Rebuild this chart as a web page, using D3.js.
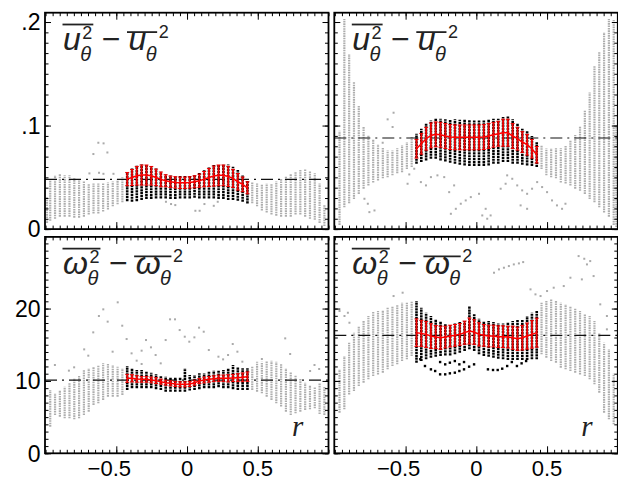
<!DOCTYPE html>
<html>
<head>
<meta charset="utf-8">
<script src="https://cdn.jsdelivr.net/npm/d3@7"></script>
<style>
body { margin: 0; background: #fff; }
text { font-family: "Liberation Sans", Arial, sans-serif; }
</style>
</head>
<body>
<svg id="chart" width="618" height="481"></svg>
<script>
// radial positions of the sample columns
const rGray = [-0.99, -0.967, -0.933, -0.899, -0.865, -0.831, -0.797, -0.763, -0.729, -0.695, -0.661, -0.627, -0.593, -0.559, -0.525, -0.491, -0.457,
  0.461, 0.495, 0.529, 0.563, 0.597, 0.631, 0.665, 0.699, 0.733, 0.767, 0.801, 0.835, 0.869, 0.903, 0.937, 0.971, 0.99];
const rBlack = [-0.423, -0.389, -0.355, -0.321, -0.287, -0.253, -0.219, -0.185, -0.151, -0.117, -0.083, -0.049, -0.015,
  0.019, 0.053, 0.087, 0.121, 0.155, 0.189, 0.223, 0.257, 0.291, 0.325, 0.359, 0.393, 0.427];

// top left
const grayHiTL = [0.031, 0.048, 0.052, 0.053, 0.052, 0.052, 0.049, 0.047, 0.046, 0.044, 0.044, 0.044, 0.044, 0.045, 0.046, 0.048, 0.050,
  0.046, 0.044, 0.043, 0.044, 0.044, 0.046, 0.049, 0.051, 0.053, 0.055, 0.057, 0.058, 0.056, 0.054, 0.044, 0.023, null];
const grayLoTL = [0.006, 0.008, 0.010, 0.012, 0.012, 0.012, 0.011, 0.011, 0.012, 0.014, 0.015, 0.015, 0.017, 0.019, 0.022, 0.024, 0.026,
  0.025, 0.022, 0.018, 0.016, 0.014, 0.013, 0.012, 0.012, 0.012, 0.014, 0.014, 0.012, 0.010, 0.009, 0.006, 0.003, null];
const blackHiTL = [0.0548, 0.0586, 0.0612, 0.0625, 0.0625, 0.0609, 0.0586, 0.0554, 0.0528, 0.0519, 0.0515, 0.0512, 0.0512,
  0.0519, 0.0528, 0.0544, 0.057, 0.0596, 0.0618, 0.0625, 0.0628, 0.0625, 0.0602, 0.057, 0.052, 0.047];
const blackLoTL = [0.027, 0.0264, 0.027, 0.028, 0.029, 0.029, 0.0296, 0.0296, 0.0296, 0.029, 0.029, 0.0296, 0.0296,
  0.0296, 0.0303, 0.0296, 0.0296, 0.0296, 0.0296, 0.029, 0.029, 0.028, 0.028, 0.0274, 0.0264, 0.0248];
const meanTL = [0.0483, 0.0499, 0.0515, 0.0522, 0.0522, 0.0515, 0.0499, 0.048, 0.0467, 0.0457, 0.0451, 0.0448, 0.0448,
  0.0451, 0.0457, 0.0467, 0.0483, 0.0499, 0.0512, 0.0519, 0.0519, 0.0509, 0.049, 0.0457, 0.0432, 0.0399];
const errTL = [0.0064, 0.0077, 0.009, 0.0097, 0.0097, 0.009, 0.008, 0.0071, 0.0058, 0.0055, 0.0055, 0.0055, 0.0055,
  0.0055, 0.0058, 0.0064, 0.0074, 0.0087, 0.0097, 0.01, 0.01, 0.0097, 0.0087, 0.008, 0.0071, 0.0058];
const outTL = [[-0.662, 0.0725], [-0.627, 0.0834], [-0.59, 0.0828], [-0.563, 0.074], [-0.69, 0.0538], [-0.622, 0.0544],
  [-0.591, 0.0534], [-0.52, 0.0534], [-0.149, 0.0264], [-0.113, 0.0242], [-0.083, 0.0232], [0.059, 0.0177],
  [0.089, 0.0177], [0.123, 0.0242], [0.189, 0.0225], [0.217, 0.0264]];

// top right
const grayHiTR = [null, 0.095, 0.203, 0.169, 0.142, 0.119, 0.099, 0.091, 0.087, 0.082, 0.079, 0.076, 0.076, 0.078, 0.081, 0.084, 0.089,
  0.081, 0.078, 0.078, 0.078, 0.078, 0.081, 0.086, 0.091, 0.099, 0.115, 0.132, 0.158, 0.171, 0.190, 0.203, 0.202, 0.100];
const grayLoTR = [null, 0.004, 0.021, 0.025, 0.029, 0.034, 0.039, 0.042, 0.045, 0.047, 0.049, 0.050, 0.052, 0.054, 0.055, 0.058, 0.060,
  0.058, 0.052, 0.050, 0.049, 0.045, 0.044, 0.042, 0.039, 0.037, 0.034, 0.029, 0.026, 0.021, 0.016, 0.012, 0.004, 0.002];
const blackHiTR = [0.0921, 0.0969, 0.1018, 0.105, 0.1066, 0.1066, 0.106, 0.106, 0.106, 0.1056, 0.1056, 0.1056, 0.105,
  0.105, 0.105, 0.106, 0.1066, 0.1066, 0.1082, 0.1092, 0.106, 0.1018, 0.0969, 0.0953, 0.09, 0.084];
const blackLoTR = [0.0631, 0.0647, 0.0663, 0.068, 0.068, 0.0663, 0.0654, 0.0641, 0.0631, 0.0622, 0.0615, 0.0609, 0.0609,
  0.0609, 0.0609, 0.0615, 0.0631, 0.0631, 0.0647, 0.0647, 0.0631, 0.0631, 0.0622, 0.0615, 0.0609, 0.0599];
const meanTR = [0.0776, 0.0824, 0.0873, 0.0905, 0.0915, 0.0911, 0.0899, 0.0889, 0.0886, 0.0886, 0.0886, 0.0886, 0.0886,
  0.0886, 0.0889, 0.0899, 0.0911, 0.0921, 0.0931, 0.0931, 0.0899, 0.0873, 0.0841, 0.0815, 0.0776, 0.0718];
const errTR = [0.009, 0.010, 0.011, 0.012, 0.012, 0.012, 0.012, 0.012, 0.012, 0.012, 0.012, 0.012, 0.012,
  0.012, 0.012, 0.012, 0.012, 0.012, 0.013, 0.013, 0.012, 0.011, 0.010, 0.010, 0.009, 0.008];
const outTR = [[-0.627, 0.106], [-0.585, 0.1124], [-0.592, 0.0986], [-0.662, 0.0834], [-0.474, 0.0528], [-0.439, 0.0583],
  [-0.392, 0.0454], [-0.356, 0.0422], [-0.321, 0.0502], [-0.275, 0.0519], [-0.227, 0.0502], [-0.192, 0.0357],
  [-0.157, 0.0422], [-0.486, 0.0438], [-0.756, 0.0164], [-0.72, 0.018], [-0.767, 0.0245], [-0.791, 0.0293],
  [-0.18, 0.0148], [-0.145, 0.0196], [-0.11, 0.0245], [-0.075, 0.0277], [-0.039, 0.0309], [0.019, 0.0341],
  [0.066, 0.0196], [0.101, 0.0132], [0.077, 0.01], [0.042, 0.0132], [0.172, 0.039], [0.207, 0.0438],
  [0.218, 0.0519], [0.254, 0.0486], [0.289, 0.0422], [0.324, 0.0374], [0.359, 0.0341], [0.394, 0.039],
  [0.43, 0.0454], [0.465, 0.0406], [0.5, 0.0357], [0.535, 0.0277], [0.57, 0.0229], [0.606, 0.0196],
  [0.63, 0.0245], [0.313, 0.0229], [0.359, 0.0196]];

// bottom left
const grayHiBL = [null, 8.75, 8.29, 8.75, 9.2, 9.67, 10.36, 10.8, 11.5, 11.74, 11.97, 12.2, 12.43, 12.34, 12.2, 11.97, 11.74,
  12.06, 12.66, 12.66, 12.8, 12.8, 12.66, 12.34, 11.74, 11.28, 10.82, 10.36, 9.76, 9.44, 9.21, 9.67, 9.2, null];
const grayLoBL = [null, 3.68, 5.29, 5.06, 4.83, 4.83, 4.7, 4.83, 5.29, 5.75, 6.68, 6.9, 7.37, 7.83, 7.83, 7.83, 8.06,
  8.75, 8.52, 8.29, 7.83, 7.37, 6.9, 6.45, 5.75, 5.29, 5.52, 5.75, 5.99, 6.08, 6.22, 5.43, 5.3, null];
const blackHiBL = [12.06, 11.74, 11.51, 11.51, 11.28, 11.14, 10.96, 10.68, 10.59, 10.5, 10.5, 10.5, 11.74,
  10.82, 10.82, 11.05, 11.05, 11.28, 11.42, 11.42, 11.51, 11.74, 12.2, 11.97, 11.74, 11.74];
const blackLoBL = [8.75, 8.98, 8.98, 8.98, 8.98, 8.98, 8.84, 8.75, 8.52, 8.52, 8.52, 8.52, 8.52,
  8.66, 8.75, 8.84, 8.98, 8.98, 8.98, 9.12, 8.98, 8.98, 8.84, 8.75, 8.75, 8.75];
const meanBL = [10.36, 10.36, 10.27, 10.22, 10.22, 10.13, 10.04, 9.9, 9.76, 9.67, 9.58, 9.53, 9.53,
  9.58, 9.76, 9.99, 10.13, 10.22, 10.31, 10.36, 10.36, 10.36, 10.41, 10.45, 10.5, 10.59];
const errBL = [0.55, 0.5, 0.45, 0.4, 0.4, 0.4, 0.4, 0.35, 0.35, 0.35, 0.35, 0.35, 0.35,
  0.35, 0.35, 0.35, 0.4, 0.4, 0.4, 0.45, 0.45, 0.5, 0.5, 0.55, 0.6, 0.65];
const outBL = [[-0.49, 20.86], [-0.592, 19.89], [-0.623, 18.97], [-0.561, 18.19], [-0.458, 17.63], [-0.663, 16.71],
  [-0.427, 15.79], [-0.727, 14.36], [-0.698, 13.49], [-0.526, 14.04], [-0.392, 13.81], [-0.321, 14.18],
  [-0.29, 15.65], [-0.255, 14.64], [-0.356, 12.8], [-0.321, 12.34], [-0.222, 13.58], [-0.186, 12.43],
  [-0.151, 15.65], [-0.12, 18.51], [-0.085, 18.51], [-0.052, 17.03], [-0.016, 16.11], [0.016, 15.42],
  [0.052, 16.02], [0.085, 17.36], [0.118, 16.8], [0.154, 14.27], [0.222, 13.35], [0.255, 12.98],
  [0.29, 13.58], [0.323, 15.1], [0.356, 14.04], [0.391, 12.66], [0.529, 13.03], [0.694, 15.88],
  [0.729, 13.72], [0.901, 12.2], [0.934, 11.65], [-0.798, 11.88], [-0.835, 11.42], [-0.934, 12.2], [0.87, 11.37]];

// bottom right
const grayHiBR = [null, 11.6, 13.44, 15.28, 16.66, 17.58, 18.27, 18.97, 19.52, 19.66, 19.8, 20.12, 20.35, 20.58, 20.8, 20.8, 21.04,
  20.8, 21.04, 21.27, 21.04, 20.8, 20.58, 20.35, 20.12, 19.66, 19.2, 18.97, 18.27, 16.66, 15.28, 14.36, 11.0, null];
const grayLoBR = [null, 5.61, 6.07, 8.14, 8.6, 9.3, 9.76, 10.22, 10.68, 10.9, 11.14, 11.6, 12.06, 12.29, 12.75, 12.98, 13.44,
  13.67, 13.21, 12.75, 12.52, 11.83, 11.6, 11.37, 11.14, 10.9, 10.68, 10.22, 9.53, 8.37, 5.61, 4.69, 4.0, null];
const blackHiBR = [21.04, 20.12, 19.43, 18.97, 18.5, 18.27, 17.95, 17.68, 17.95, 18.14, 18.27, 20.35, 19.2,
  18.6, 18.27, 18.27, 18.14, 17.95, 17.95, 18.14, 18.27, 18.5, 18.5, 18.97, 19.43, 19.66];
const blackLoBR = [12.52, 12.75, 12.98, 13.21, 13.35, 13.44, 13.53, 13.53, 13.67, 13.9, 14.13, 14.36, 14.13,
  13.67, 13.44, 13.35, 13.21, 13.07, 12.98, 12.89, 12.89, 12.89, 12.89, 12.89, 12.98, 12.98];
const meanBR = [16.67, 16.57, 16.43, 16.2, 16.06, 15.97, 16.06, 16.2, 16.3, 16.43, 16.67, 16.9, 16.76,
  16.43, 16.3, 16.2, 16.2, 16.11, 16.11, 16.06, 15.97, 15.83, 15.97, 16.2, 16.43, 16.67];
const errBR = [1.9, 1.8, 1.8, 1.7, 1.6, 1.6, 1.5, 1.5, 1.5, 1.5, 1.6, 1.8, 1.7,
  1.6, 1.5, 1.5, 1.5, 1.5, 1.5, 1.5, 1.6, 1.6, 1.7, 1.8, 1.9, 2.0];
const outBR = [[0.125, 24.95], [0.16, 25.41], [0.195, 25.64], [0.23, 25.87], [0.265, 26.1], [0.301, 26.24], [0.331, 26.42],
  [0.723, 27.25], [0.763, 26.88], [0.805, 26.56], [0.782, 26.1], [0.829, 24.49], [0.383, 22.65], [0.418, 21.96],
  [0.454, 21.73], [0.5, 22.42], [0.547, 22.88], [0.618, 23.11], [0.665, 24.26], [0.746, 24.03], [0.876, 20.58],
  [0.923, 18.97], [0.923, 17.13], [-0.521, 22.19], [-0.585, 21.73], [-0.908, 19.42], [-0.932, 18.97],
  [-0.967, 19.66], [-0.897, 18.04]];
const blackOutBR = [[-0.396, 13.0], [-0.363, 12.06], [-0.321, 11.6], [-0.291, 11.37], [-0.256, 10.91], [-0.22, 10.91],
  [-0.187, 11.05], [-0.152, 11.14], [-0.12, 11.37], [-0.087, 11.6], [-0.051, 11.97], [-0.256, 12.61],
  [-0.22, 12.29], [-0.187, 12.52], [-0.152, 12.75], [-0.12, 12.29], [-0.087, 12.61], [0.082, 11.6],
  [0.118, 11.51], [0.151, 11.51], [0.183, 11.69], [0.218, 12.06], [0.251, 12.61], [0.287, 12.06],
  [0.32, 12.43], [0.352, 12.75], [-0.016, 12.29]];

// reference levels (dash-dot lines)
const refLevels = [0.048, 0.088, 10.1, 16.3];

// tick labels
const xTicks = [-0.5, 0, 0.5];
const xTickLabels = ["\u22120.5", "0", "0.5"];
const yTicksTop = [0, 0.1, 0.2];
const yTickLabelsTop = ["0", ".1", ".2"];
const yTicksBottom = [0, 10, 20];
const yTickLabelsBottom = ["0", "10", "20"];

const svg = d3.select("#chart");
const W = 283.5, H = 216.4;

const panels = [
  {left: 45, top: 12.7, yDomain: [0, 0.209], grayHi: grayHiTL, grayLo: grayLoTL, blackHi: blackHiTL, blackLo: blackLoTL,
    mean: meanTL, err: errTL, out: outTL, blackOut: [], ref: refLevels[0], sym: "u",
    yMinor: d3.range(0, 21).map(i => i / 100), yTicks: yTicksTop, yLabels: yTickLabelsTop, xLabels: false},
  {left: 334.3, top: 12.7, yDomain: [0, 0.209], grayHi: grayHiTR, grayLo: grayLoTR, blackHi: blackHiTR, blackLo: blackLoTR,
    mean: meanTR, err: errTR, out: outTR, blackOut: [], ref: refLevels[1], sym: "u",
    yMinor: d3.range(0, 21).map(i => i / 100), yTicks: yTicksTop, yLabels: null, xLabels: false},
  {left: 45, top: 236.9, yDomain: [0, 29.9], grayHi: grayHiBL, grayLo: grayLoBL, blackHi: blackHiBL, blackLo: blackLoBL,
    mean: meanBL, err: errBL, out: outBL, blackOut: [], ref: refLevels[2], sym: "\u03c9",
    yMinor: d3.range(0, 30), yTicks: yTicksBottom, yLabels: yTickLabelsBottom, xLabels: true},
  {left: 334.3, top: 236.9, yDomain: [0, 29.9], grayHi: grayHiBR, grayLo: grayLoBR, blackHi: blackHiBR, blackLo: blackLoBR,
    mean: meanBR, err: errBR, out: outBR, blackOut: blackOutBR, ref: refLevels[3], sym: "\u03c9",
    yMinor: d3.range(0, 30), yTicks: yTicksBottom, yLabels: null, xLabels: true}
];

const xMinor = d3.range(-20, 21).map(i => i / 20);

panels.forEach(drawPanel);

function drawPanel(p) {
  const g = svg.append("g").attr("transform", `translate(${p.left},${p.top})`);
  const x = d3.scaleLinear().domain([-1.004, 1.0]).range([0, W]);
  const y = d3.scaleLinear().domain(p.yDomain).range([H, 0]);

  // gray sample columns
  const grayCols = rGray.map((r, i) => ({r: r, hi: p.grayHi[i], lo: p.grayLo[i]})).filter(d => d.hi != null);
  g.append("g").selectAll("line")
    .data(grayCols)
    .join("line")
      .attr("x1", d => x(d.r)).attr("x2", d => x(d.r))
      .attr("y1", d => y(d.lo)).attr("y2", d => y(d.hi))
      .attr("stroke", "#adadad")
      .attr("stroke-width", 2.2)
      .attr("stroke-dasharray", "1.6,0.8");

  g.append("g").selectAll("rect")
    .data(p.out)
    .join("rect")
      .attr("x", d => x(d[0]) - 1).attr("y", d => y(d[1]) - 1)
      .attr("width", 2).attr("height", 2)
      .attr("fill", "#aaa");

  // dash-dot reference line
  g.append("line")
    .attr("x1", 0).attr("x2", W)
    .attr("y1", y(p.ref)).attr("y2", y(p.ref))
    .attr("stroke", "#111")
    .attr("stroke-width", 1.2)
    .attr("stroke-dasharray", "12,5,2,5");

  // black sample columns
  const blackCols = rBlack.map((r, i) => ({r: r, hi: p.blackHi[i], lo: p.blackLo[i], m: p.mean[i], e: p.err[i]}));
  g.append("g").selectAll("line")
    .data(blackCols)
    .join("line")
      .attr("x1", d => x(d.r)).attr("x2", d => x(d.r))
      .attr("y1", d => y(d.lo)).attr("y2", d => y(d.hi))
      .attr("stroke", "#000")
      .attr("stroke-width", 2.6)
      .attr("stroke-dasharray", "2.2,0.7");

  g.append("g").selectAll("rect")
    .data(p.blackOut)
    .join("rect")
      .attr("x", d => x(d[0]) - 1.2).attr("y", d => y(d[1]) - 1.2)
      .attr("width", 2.4).attr("height", 2.4)
      .attr("fill", "#000");

  // red error bars
  const bars = g.append("g").attr("stroke", "#ee0000");
  bars.selectAll(".bar")
    .data(blackCols)
    .join("line")
      .attr("class", "bar")
      .attr("x1", d => x(d.r)).attr("x2", d => x(d.r))
      .attr("y1", d => y(d.m - d.e)).attr("y2", d => y(d.m + d.e))
      .attr("stroke-width", 1.8);
  bars.selectAll(".capHi")
    .data(blackCols)
    .join("line")
      .attr("class", "capHi")
      .attr("x1", d => x(d.r) - 2).attr("x2", d => x(d.r) + 2)
      .attr("y1", d => y(d.m + d.e)).attr("y2", d => y(d.m + d.e))
      .attr("stroke-width", 1);
  bars.selectAll(".capLo")
    .data(blackCols)
    .join("line")
      .attr("class", "capLo")
      .attr("x1", d => x(d.r) - 2).attr("x2", d => x(d.r) + 2)
      .attr("y1", d => y(d.m - d.e)).attr("y2", d => y(d.m - d.e))
      .attr("stroke-width", 1);

  g.append("path")
    .datum(blackCols)
    .attr("fill", "none")
    .attr("stroke", "#ff0000")
    .attr("stroke-width", 1.5)
    .attr("d", d3.line().x(d => x(d.r)).y(d => y(d.m)));

  // ticks on all four sides, pointing inward
  const noLabel = () => "";
  const tickAxis = (axis, tx, ty) => {
    const a = g.append("g").attr("transform", `translate(${tx},${ty})`).call(axis);
    a.select(".domain").remove();
    a.selectAll("line").attr("stroke", "#000").attr("stroke-width", 1);
    return a;
  };
  tickAxis(d3.axisBottom(x).tickValues(xMinor).tickSize(-3.5).tickFormat(noLabel), 0, H);
  tickAxis(d3.axisBottom(x).tickValues(xTicks).tickSize(-7).tickFormat(noLabel), 0, H);
  tickAxis(d3.axisTop(x).tickValues(xMinor).tickSize(-3.5).tickFormat(noLabel), 0, 0);
  tickAxis(d3.axisTop(x).tickValues(xTicks).tickSize(-7).tickFormat(noLabel), 0, 0);
  tickAxis(d3.axisLeft(y).tickValues(p.yMinor).tickSize(-3.5).tickFormat(noLabel), 0, 0);
  tickAxis(d3.axisLeft(y).tickValues(p.yTicks).tickSize(-6).tickFormat(noLabel), 0, 0);
  tickAxis(d3.axisRight(y).tickValues(p.yMinor).tickSize(-3.5).tickFormat(noLabel), W, 0);
  tickAxis(d3.axisRight(y).tickValues(p.yTicks).tickSize(-6).tickFormat(noLabel), W, 0);

  // frame
  g.append("rect")
    .attr("width", W).attr("height", H)
    .attr("fill", "none")
    .attr("stroke", "#000")
    .attr("stroke-width", 1.8);

  if (p.yLabels) {
    g.append("g").selectAll("text")
      .data(p.yTicks)
      .join("text")
        .attr("x", -4.5)
        .attr("y", d => y(d))
        .attr("dy", "0.36em")
        .attr("text-anchor", "end")
        .style("font-size", "23px")
        .text((d, i) => p.yLabels[i]);
  }

  if (p.xLabels) {
    g.append("g").selectAll("text")
      .data(xTicks)
      .join("text")
        .attr("x", d => x(d) - (d < 0 ? 7 : 0))
        .attr("y", 239.3)
        .attr("text-anchor", "middle")
        .style("font-size", "22px")
        .text((d, i) => xTickLabels[i]);
    g.append("text")
      .attr("x", 247).attr("y", 199)
      .style("font-family", "'Liberation Serif', serif")
      .style("font-style", "italic")
      .style("font-size", "29px")
      .attr("fill", "#222")
      .text("r");
  }

  drawLabel(g, p.sym);
}

// overline(sym^2_theta) - overline(sym_theta)^2, laid out from measured glyph widths
function drawLabel(g, sym) {
  const base = 37.5, x0 = 18;
  const t = g.append("g")
    .attr("fill", "#222")
    .style("font-family", "'Liberation Serif', serif");

  const first = t.append("text").attr("y", base);
  const s1 = first.append("tspan").attr("x", x0)
    .style("font-size", "32px").style("font-style", "italic").text(sym);
  const w = s1.node().getComputedTextLength();
  const sup1 = first.append("tspan").attr("x", x0 + w + 1.5).attr("y", 26)
    .style("font-size", "18px").text("2");
  const sub1 = first.append("tspan").attr("x", x0 + w - 0.5).attr("y", 48)
    .style("font-size", "20px").style("font-style", "italic").text("\u03b8");
  const end1 = Math.max(x0 + w + 1.5 + sup1.node().getComputedTextLength(),
    x0 + w - 0.5 + sub1.node().getComputedTextLength());
  t.append("line").attr("x1", x0 - 0.5).attr("x2", end1 + 1).attr("y1", 11.8).attr("y2", 11.8)
    .attr("stroke", "#222").attr("stroke-width", 1.8);

  const minus = t.append("text").attr("x", end1 + 9.5).attr("y", base)
    .style("font-size", "32px").text("\u2212");
  const x2 = end1 + 9.5 + minus.node().getComputedTextLength() + 8;

  const second = t.append("text").attr("y", base);
  second.append("tspan").attr("x", x2)
    .style("font-size", "32px").style("font-style", "italic").text(sym);
  const sub2 = second.append("tspan").attr("x", x2 + w - 0.5).attr("y", 48)
    .style("font-size", "20px").style("font-style", "italic").text("\u03b8");
  const end2 = x2 + w - 0.5 + sub2.node().getComputedTextLength();
  second.append("tspan").attr("x", end2 + 2).attr("y", 25.6)
    .style("font-size", "18px").text("2");
  t.append("line").attr("x1", x2 - 1.5).attr("x2", end2 + 0.5).attr("y1", 19.4).attr("y2", 19.4)
    .attr("stroke", "#222").attr("stroke-width", 1.8);
}
</script>
</body>
</html>
